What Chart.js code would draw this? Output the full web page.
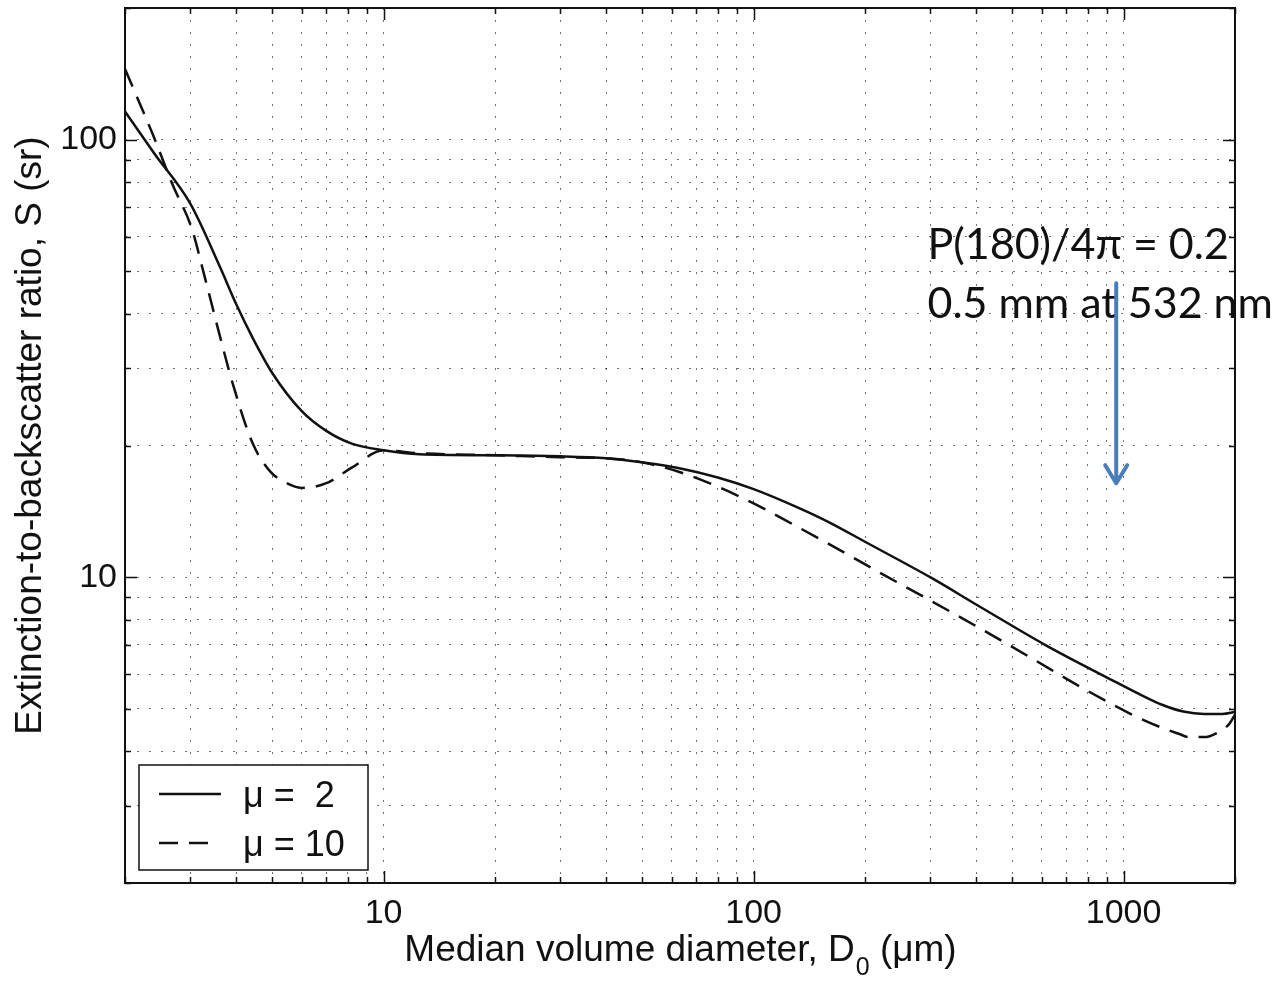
<!DOCTYPE html>
<html>
<head>
<meta charset="utf-8">
<title>Extinction-to-backscatter ratio</title>
<script src="https://cdn.jsdelivr.net/npm/chart.js@4.4.0/dist/chart.umd.min.js"></script>
<style>
  html, body { margin: 0; padding: 0; background: #fff; }
  #wrap { width: 1288px; height: 981px; position: relative; }
</style>
</head>
<body>
<div id="wrap"><canvas id="chart"></canvas></div>
<script>
// median volume diameter (um) and S (sr)
const mu2D  = [2, 2.4, 3, 3.6, 4, 4.43, 5, 6, 7, 8.2, 10, 12.5, 20, 30, 40, 50, 63, 80, 100, 130, 160, 200, 300, 410, 620, 930, 1100, 1270, 1450, 1650, 1850, 2000];
const mu2S  = [116, 93, 71.5, 51.5, 42.0, 35.2, 29.3, 24.0, 21.6, 20.2, 19.5, 19.1, 19.0, 18.9, 18.7, 18.3, 17.75, 16.9, 15.9, 14.5, 13.35, 12.05, 10.0, 8.55, 6.97, 5.82, 5.41, 5.11, 4.93, 4.87, 4.87, 4.92];

const mu10D = [2, 2.38, 2.69, 3.03, 3.24, 3.6, 3.91, 4.43, 4.92, 5.4, 6.0, 7.0, 8.2, 10, 12.5, 20, 30, 40, 50, 63, 80, 100, 130, 160, 219, 300, 408, 557, 760, 1040, 1250, 1416, 1500, 1650, 1800, 1930, 2000];
const mu10S = [145, 102.6, 78.9, 62.7, 50.8, 35.9, 27.7, 20.2, 17.5, 16.5, 16.0, 16.4, 17.8, 19.5, 19.2, 19.0, 18.8, 18.7, 18.3, 17.4, 16.1, 14.75, 13.1, 11.9, 10.25, 8.85, 7.65, 6.57, 5.63, 4.88, 4.55, 4.38, 4.31, 4.31, 4.42, 4.62, 4.85];

const seriesNames = ['\u03bc =  2', '\u03bc = 10'];

const xTickValues = [2,3,4,5,6,7,8,9,10,20,30,40,50,60,70,80,90,100,200,300,400,500,600,700,800,900,1000,2000];
const yTickValues = [2,3,4,5,6,7,8,9,10,20,30,40,50,60,70,80,90,100,200];
const xTickLabels = [10, 100, 1000];
const yTickLabels = [10, 100];

const xTitle = ['Median volume diameter, D', '0', ' (\u03bcm)'];
const yTitle = 'Extinction-to-backscatter ratio, S (sr)';

const noteLines = ['P(180)/4\u03c0 = 0.2', '0.5 mm at 532 nm'];
const noteX = 295;          // diameter where the note text starts
const noteY = [53.4, 39.1]; // S at each text baseline
const arrowX = 955;
const arrowFrom = 47;
const arrowTo = 16.4;

const FONT = '"Liberation Sans", Arial, Helvetica, sans-serif';

function pts(xs, ys) {
  return xs.map((x, i) => ({ x: x, y: ys[i] }));
}

function isIn(list, v) {
  return list.some(t => Math.abs(t - v) < 1e-6);
}

const frame = {
  id: 'frame',
  afterDraw(chart) {
    const ctx = chart.ctx;
    const a = chart.chartArea;
    const xs = chart.scales.x, ys = chart.scales.y;
    ctx.save();

    // axis box
    ctx.strokeStyle = '#111';
    ctx.lineWidth = 2;
    ctx.strokeRect(a.left, a.top, a.right - a.left, a.bottom - a.top);

    // inward ticks on all four sides
    ctx.lineWidth = 1.5;
    ctx.beginPath();
    xTickValues.forEach(v => {
      const p = Math.round(xs.getPixelForValue(v)) + 0.5;
      const len = isIn(xTickLabels, v) ? 12 : 6;
      ctx.moveTo(p, a.bottom); ctx.lineTo(p, a.bottom - len);
      ctx.moveTo(p, a.top); ctx.lineTo(p, a.top + len);
    });
    yTickValues.forEach(v => {
      const p = Math.round(ys.getPixelForValue(v)) + 0.5;
      const len = isIn(yTickLabels, v) ? 12 : 6;
      ctx.moveTo(a.left, p); ctx.lineTo(a.left + len, p);
      ctx.moveTo(a.right, p); ctx.lineTo(a.right - len, p);
    });
    ctx.stroke();

    // x title with subscript
    ctx.fillStyle = '#111';
    ctx.textBaseline = 'alphabetic';
    ctx.textAlign = 'left';
    const big = '37px ' + FONT, small = '25px ' + FONT;
    ctx.font = big;
    const w0 = ctx.measureText(xTitle[0]).width;
    const w2 = ctx.measureText(xTitle[2]).width;
    ctx.font = small;
    const w1 = ctx.measureText(xTitle[1]).width;
    let tx = (a.left + a.right) / 2 - (w0 + w1 + w2) / 2;
    const base = a.bottom + 78;
    ctx.font = big;
    ctx.fillText(xTitle[0], tx, base);
    ctx.font = small;
    ctx.fillText(xTitle[1], tx + w0 + 1, base + 14);
    ctx.font = big;
    ctx.fillText(xTitle[2], tx + w0 + w1 + 1, base);

    // y title
    ctx.save();
    ctx.translate(41, (a.top + a.bottom) / 2 - 10);
    ctx.rotate(-Math.PI / 2);
    ctx.textAlign = 'center';
    ctx.font = big;
    ctx.fillText(yTitle, 0, 0);
    ctx.restore();

    // legend box, bottom left inside the axes
    const lx = a.left + 14, ly = a.bottom - 118, lw = 229, lh = 105;
    ctx.fillStyle = '#fff';
    ctx.fillRect(lx, ly, lw, lh);
    ctx.strokeStyle = '#111';
    ctx.lineWidth = 1.5;
    ctx.strokeRect(lx, ly, lw, lh);
    chart.data.datasets.forEach((ds, i) => {
      const yy = ly + 29 + i * 49;
      ctx.save();
      ctx.strokeStyle = ds.borderColor;
      ctx.lineWidth = ds.borderWidth;
      ctx.setLineDash(ds.borderDash || []);
      ctx.beginPath();
      ctx.moveTo(lx + 20, yy);
      ctx.lineTo(lx + (ds.borderDash ? 70 : 82), yy);
      ctx.stroke();
      ctx.restore();
      ctx.fillStyle = '#111';
      ctx.font = '36px ' + FONT;
      ctx.textAlign = 'left';
      ctx.fillText(ds.label, lx + 104, yy + 13);
    });

    // annotation text and arrow
    ctx.fillStyle = '#111';
    ctx.font = '43px Lato, "Open Sans", sans-serif';
    ctx.textAlign = 'left';
    const nx = xs.getPixelForValue(noteX);
    noteLines.forEach((t, i) => ctx.fillText(t, nx, ys.getPixelForValue(noteY[i])));

    const ax = xs.getPixelForValue(arrowX);
    const ay0 = ys.getPixelForValue(arrowFrom);
    const ay1 = ys.getPixelForValue(arrowTo);
    ctx.strokeStyle = '#4a7ebb';
    ctx.lineWidth = 4;
    ctx.lineCap = 'round';
    ctx.lineJoin = 'round';
    ctx.beginPath();
    ctx.moveTo(ax, ay0);
    ctx.lineTo(ax, ay1);
    ctx.moveTo(ax - 11, ay1 - 18);
    ctx.lineTo(ax, ay1);
    ctx.lineTo(ax + 11, ay1 - 18);
    ctx.stroke();

    ctx.restore();
  }
};

const gridStyle = { color: 'rgba(0,0,0,0.55)', lineWidth: 1, drawTicks: false };
const borderStyle = { display: false, dash: [2, 10] };

new Chart(document.getElementById('chart'), {
  type: 'line',
  data: {
    datasets: [
      {
        label: seriesNames[0],
        data: pts(mu2D, mu2S),
        borderColor: '#111',
        borderWidth: 2.5,
        pointRadius: 0,
        fill: false,
        cubicInterpolationMode: 'monotone'
      },
      {
        label: seriesNames[1],
        data: pts(mu10D, mu10S),
        borderColor: '#111',
        borderWidth: 2.5,
        borderDash: [19, 11],
        pointRadius: 0,
        fill: false,
        cubicInterpolationMode: 'monotone'
      }
    ]
  },
  options: {
    responsive: true,
    maintainAspectRatio: false,
    animation: false,
    layout: { padding: { left: 0, top: 8, right: 53, bottom: 0 } },
    plugins: { legend: { display: false }, tooltip: { enabled: false } },
    scales: {
      x: {
        type: 'logarithmic',
        min: 2,
        max: 2000,
        afterBuildTicks: s => { s.ticks = xTickValues.map(v => ({ value: v })); },
        afterFit: s => { s.height = 98; s.paddingLeft = 0; s.paddingRight = 0; },
        grid: gridStyle,
        border: borderStyle,
        ticks: {
          autoSkip: false,
          maxRotation: 0,
          padding: 10,
          color: '#111',
          font: { family: FONT, size: 34 },
          callback: v => isIn(xTickLabels, v) ? String(v) : ''
        }
      },
      y: {
        type: 'logarithmic',
        min: 2,
        max: 200,
        afterBuildTicks: s => { s.ticks = yTickValues.map(v => ({ value: v })); },
        afterFit: s => { s.width = 125; s.paddingTop = 0; s.paddingBottom = 0; },
        grid: gridStyle,
        border: borderStyle,
        ticks: {
          autoSkip: false,
          padding: 8,
          color: '#111',
          font: { family: FONT, size: 34 },
          callback: v => isIn(yTickLabels, v) ? String(v) : ''
        }
      }
    }
  },
  plugins: [frame]
});
</script>
</body>
</html>
